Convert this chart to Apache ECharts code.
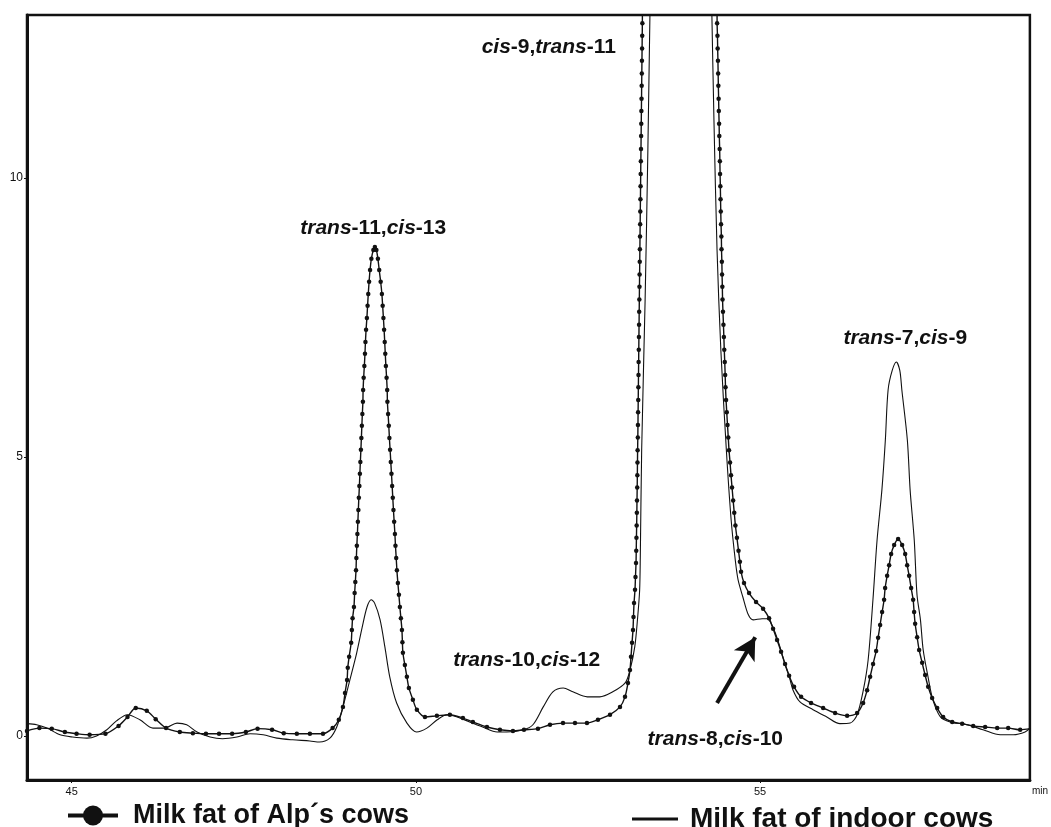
<!DOCTYPE html>
<html><head><meta charset="utf-8">
<script src="https://cdn.jsdelivr.net/npm/echarts@6/dist/echarts.min.js"></script>
<style>html,body{margin:0;padding:0;background:#fff}#c{width:1051px;height:827px}</style>
</head><body><div id="c"></div>
<script>
// retention time (min), detector response
const alpCows = [[44.35,0.09],[44.53,0.14],[44.71,0.13],[44.90,0.07],[45.07,0.04],[45.26,0.02],[45.49,0.04],[45.68,0.18],[45.81,0.34],[45.93,0.50],[46.09,0.45],[46.22,0.30],[46.37,0.14],[46.57,0.07],[46.76,0.05],[46.95,0.04],[47.14,0.04],[47.33,0.04],[47.53,0.07],[47.70,0.13],[47.91,0.11],[48.08,0.05],[48.27,0.04],[48.46,0.04],[48.65,0.04],[48.79,0.14],[48.88,0.29],[48.94,0.52],[48.97,0.77],[49.00,1.00],[49.01,1.22],[49.03,1.42],[49.06,1.67],[49.07,1.90],[49.08,2.11],[49.10,2.31],[49.11,2.56],[49.12,2.76],[49.13,2.97],
[49.135,3.19],[49.142,3.41],[49.150,3.62],[49.157,3.84],[49.164,4.05],[49.171,4.27],[49.179,4.48],[49.186,4.70],[49.193,4.91],[49.201,5.13],[49.208,5.34],[49.215,5.56],[49.222,5.77],[49.230,5.99],
[49.233,6.20],[49.241,6.42],[49.251,6.63],[49.260,6.85],[49.267,7.06],[49.276,7.28],[49.288,7.49],[49.298,7.71],[49.308,7.92],[49.320,8.14],[49.334,8.35],[49.353,8.55],[49.382,8.71],[49.404,8.76],
[49.426,8.71],[49.448,8.55],[49.467,8.35],[49.488,8.14],[49.506,7.92],[49.517,7.71],[49.528,7.49],[49.538,7.28],[49.547,7.06],[49.555,6.85],[49.564,6.63],[49.574,6.42],[49.583,6.20],
[49.586,5.99],[49.596,5.77],[49.606,5.56],[49.615,5.34],[49.625,5.13],[49.635,4.91],[49.645,4.70],[49.655,4.48],[49.664,4.27],[49.674,4.05],[49.684,3.84],[49.695,3.62],[49.703,3.41],[49.714,3.19],[49.724,2.97],
[49.738,2.74],[49.753,2.53],[49.767,2.31],[49.782,2.11],[49.797,1.90],[49.804,1.68],[49.811,1.49],[49.840,1.27],[49.869,1.06],[49.898,0.86],[49.956,0.65],[50.014,0.47],[50.131,0.34],[50.305,0.36],[50.494,0.38],[50.683,0.32],[50.828,0.25],[51.032,0.16],[51.221,0.11],[51.410,0.09],[51.570,0.11],[51.773,0.13],[51.948,0.20],[52.137,0.23],[52.311,0.23],[52.485,0.23],[52.645,0.29],[52.820,0.38],[52.965,0.52],[53.038,0.70],[53.081,0.95],[53.110,1.18],[53.125,1.42],[53.140,1.67],[53.154,1.90],[53.161,2.13],[53.169,2.38],[53.183,2.62],[53.190,2.85],[53.198,3.10],
[53.201,3.32],[53.204,3.55],[53.207,3.77],[53.210,4.00],[53.212,4.22],[53.215,4.45],[53.217,4.67],[53.219,4.90],[53.221,5.12],[53.224,5.35],[53.226,5.57],[53.228,5.80],[53.230,6.02],[53.232,6.25],[53.234,6.47],[53.236,6.70],[53.238,6.92],[53.240,7.15],[53.242,7.37],[53.244,7.60],[53.246,7.82],[53.248,8.05],[53.250,8.27],[53.252,8.50],[53.254,8.72],[53.256,8.95],[53.258,9.17],[53.260,9.40],[53.262,9.62],[53.264,9.85],[53.266,10.07],[53.268,10.30],[53.270,10.52],[53.272,10.75],[53.274,10.97],[53.276,11.20],[53.278,11.42],[53.280,11.65],[53.282,11.87],[53.284,12.10],[53.286,12.32],[53.288,12.55],[53.290,12.77],
[53.293,13.3],[53.45,22],[53.83,30],[54.25,22],[54.373,13.3],
[54.376,12.77],[54.381,12.55],[54.384,12.32],[54.388,12.10],[54.391,11.87],[54.394,11.65],[54.398,11.42],[54.401,11.20],[54.405,10.97],[54.408,10.75],[54.413,10.52],[54.416,10.30],[54.419,10.07],[54.423,9.85],[54.426,9.62],[54.429,9.40],[54.433,9.17],[54.438,8.95],[54.440,8.72],[54.445,8.50],[54.448,8.27],[54.452,8.05],[54.455,7.82],[54.461,7.60],[54.468,7.37],[54.474,7.15],[54.480,6.92],[54.487,6.70],[54.493,6.47],[54.498,6.25],[54.506,6.02],[54.516,5.80],[54.527,5.57],[54.538,5.35],[54.549,5.12],[54.564,4.90],[54.578,4.67],[54.593,4.45],[54.609,4.22],[54.625,4.00],[54.642,3.77],[54.664,3.55],[54.687,3.32],
[54.707,3.12],[54.724,2.94],[54.767,2.74],[54.840,2.56],[54.942,2.40],[55.044,2.28],[55.131,2.11],[55.189,1.92],[55.247,1.72],[55.305,1.51],[55.363,1.29],[55.422,1.08],[55.494,0.88],[55.596,0.70],[55.741,0.59],[55.916,0.50],[56.090,0.41],[56.265,0.36],[56.410,0.41],[56.497,0.59],[56.555,0.82],[56.599,1.06],[56.642,1.29],[56.686,1.52],[56.715,1.76],[56.744,1.99],[56.773,2.22],[56.802,2.44],[56.817,2.65],[56.846,2.87],[56.875,3.06],[56.904,3.26],[56.948,3.42],[57.006,3.53],[57.064,3.42],[57.108,3.26],[57.137,3.06],[57.166,2.87],[57.195,2.65],[57.224,2.44],[57.238,2.22],[57.253,2.01],[57.282,1.77],[57.311,1.54],[57.355,1.31],[57.398,1.09],[57.442,0.88],[57.500,0.68],[57.573,0.50],[57.660,0.34],[57.791,0.25],[57.936,0.22],[58.096,0.18],[58.270,0.16],[58.445,0.14],[58.605,0.14],[58.779,0.11],[58.924,0.13]];

const indoorCows = [[44.35,0.22],[44.49,0.20],[44.64,0.14],[44.83,0.02],[45.01,-0.02],[45.22,-0.04],[45.36,0.0],[45.51,0.11],[45.65,0.27],[45.81,0.38],[45.99,0.29],[46.18,0.14],[46.35,0.14],[46.53,0.23],[46.67,0.20],[46.82,0.07],[47.01,-0.02],[47.19,-0.05],[47.40,-0.02],[47.59,0.04],[47.78,0.02],[47.98,-0.04],[48.21,-0.07],[48.46,-0.09],[48.60,-0.11],[48.75,-0.04],[48.85,0.16],[48.94,0.52],[49.04,1.00],[49.14,1.49],[49.22,1.95],[49.29,2.31],[49.35,2.44],[49.40,2.38],[49.48,2.08],[49.55,1.59],[49.62,1.06],[49.72,0.59],[49.87,0.23],[50.01,0.07],[50.16,0.14],[50.31,0.29],[50.45,0.38],[50.60,0.34],[50.78,0.25],[50.97,0.16],[51.18,0.07],[51.32,0.07],[51.56,0.11],[51.70,0.20],[51.85,0.52],[51.99,0.79],[52.14,0.86],[52.28,0.79],[52.49,0.70],[52.67,0.70],[52.86,0.79],[53.04,0.95],[53.11,1.18],[53.18,1.60],[53.22,2.10],[53.25,2.60],[53.26,3.20],[53.28,5.13],[53.33,7.81],[53.37,10.50],[53.40,12.92],[53.41,13.5],[53.85,35],[54.29,13.5],[54.30,12.92],[54.33,11.04],[54.375,8.71],[54.43,6.92],[54.51,5.13],[54.58,3.87],[54.64,3.15],[54.68,2.80],[54.75,2.49],[54.83,2.17],[54.90,2.08],[55.03,2.10],[55.10,2.10],[55.15,2.04],[55.22,1.85],[55.29,1.59],[55.36,1.29],[55.42,1.08],[55.48,0.82],[55.58,0.61],[55.77,0.47],[55.97,0.34],[56.16,0.22],[56.31,0.23],[56.41,0.38],[56.50,0.82],[56.57,1.36],[56.64,2.44],[56.70,3.51],[56.77,4.41],[56.82,5.30],[56.86,6.20],[56.92,6.55],[56.98,6.70],[57.03,6.55],[57.06,6.20],[57.14,5.30],[57.18,4.41],[57.24,3.51],[57.28,2.53],[57.33,2.08],[57.37,1.54],[57.44,1.06],[57.51,0.65],[57.62,0.34],[57.76,0.25],[58.01,0.20],[58.24,0.11],[58.49,0.02],[58.68,0.02],[58.85,0.07],[58.92,0.14]];

const seriesNames = ['Milk fat of Alp´s cows', 'Milk fat of indoor cows'];
const xTickValues = [45, 50, 55];
const yTickValues = [0, 5, 10];
const xUnit = 'min';
// peak annotations: rich-text label, anchor time, anchor value
const peakLabels = ['{i|cis}{b|-9,}{i|trans}{b|-11}', '{i|trans}{b|-11,}{i|cis}{b|-13}', '{i|trans}{b|-10,}{i|cis}{b|-12}', '{i|trans}{b|-8,}{i|cis}{b|-10}', '{i|trans}{b|-7,}{i|cis}{b|-9}'];
const peakLabelTimes = [51.93, 49.38, 51.61, 54.35, 57.11];
const peakLabelValues = [12.35, 9.10, 1.36, -0.05, 7.13];
const arrowTail = [54.375, 0.59];
const arrowHead = [54.93, 1.77];

const INK = '#111';
const FONT = '"Liberation Sans", Arial, sans-serif';
const chart = echarts.init(document.getElementById('c'), null, {renderer: 'canvas'});

const richStyles = {
  i: {fontStyle: 'italic', fontWeight: 'bold', fontSize: 21, fontFamily: FONT, color: INK},
  b: {fontWeight: 'bold', fontSize: 21, fontFamily: FONT, color: INK}
};

chart.setOption({
  animation: false,
  backgroundColor: '#fff',
  grid: {left: 27, right: 21, top: 15, bottom: 47, show: true, borderColor: INK, borderWidth: 2.5, backgroundColor: 'transparent'},
  xAxis: {
    type: 'value', min: 44.35, max: 58.92,
    name: xUnit, nameLocation: 'end', nameGap: 2,
    nameTextStyle: {fontSize: 10, fontFamily: FONT, color: INK, verticalAlign: 'top', padding: [6, 0, 0, 0]},
    axisLine: {show: true, onZero: false, lineStyle: {color: INK, width: 3}},
    axisTick: {show: true, length: 3, inside: false, customValues: xTickValues, lineStyle: {color: INK, width: 1}},
    axisLabel: {customValues: xTickValues, fontSize: 11, fontFamily: FONT, color: INK, margin: 6},
    splitLine: {show: false}
  },
  yAxis: {
    type: 'value', min: -0.79, max: 12.92,
    axisLine: {show: true, onZero: false, lineStyle: {color: INK, width: 3}},
    axisTick: {show: true, length: 3, customValues: yTickValues, lineStyle: {color: INK, width: 1}},
    axisLabel: {customValues: yTickValues, fontSize: 12, fontFamily: FONT, color: INK, margin: 4},
    splitLine: {show: false}
  },
  legend: [
    {data: [seriesNames[0]], left: 61, top: 797, itemWidth: 50, itemHeight: 25, itemGap: 10,
     lineStyle: {width: 4, color: INK}, itemStyle: {color: INK},
     textStyle: {fontSize: 27, fontWeight: 'bold', fontFamily: FONT, color: INK, padding: [0, 0, 0, 10]}, selectedMode: false},
    {data: [{name: seriesNames[1], icon: 'rect'}], left: 627, top: 800, itemWidth: 46, itemHeight: 3, itemGap: 10,
     itemStyle: {color: INK},
     textStyle: {fontSize: 28, fontWeight: 'bold', fontFamily: FONT, color: INK, padding: [0, 0, 0, 7]}, selectedMode: false}
  ],
  series: [
    {
      name: seriesNames[1], type: 'line', data: indoorCows, clip: true,
      smooth: 0.3, symbol: 'none', color: INK,
      lineStyle: {color: INK, width: 1.1},
      markPoint: {
        silent: true, symbol: 'rect', symbolSize: 1, itemStyle: {color: 'rgba(0,0,0,0)'},
        label: {show: true, position: 'inside', formatter: p => p.data.text, rich: richStyles},
        data: peakLabels.map((t, k) => ({coord: [peakLabelTimes[k], peakLabelValues[k]], text: t}))
      },
      markLine: {
        silent: true, symbol: ['none', 'arrow'], symbolSize: [18, 22],
        lineStyle: {color: INK, width: 4, type: 'solid'}, label: {show: false},
        data: [[{coord: arrowTail}, {coord: arrowHead}]]
      }
    },
    {
      name: seriesNames[0], type: 'line', data: alpCows, clip: true,
      smooth: 0.3, symbol: 'circle', symbolSize: 4.5, showSymbol: true, showAllSymbol: true,
      color: INK, itemStyle: {color: INK}, lineStyle: {color: INK, width: 1.4}
    }
  ]
});
</script>
</body></html>
